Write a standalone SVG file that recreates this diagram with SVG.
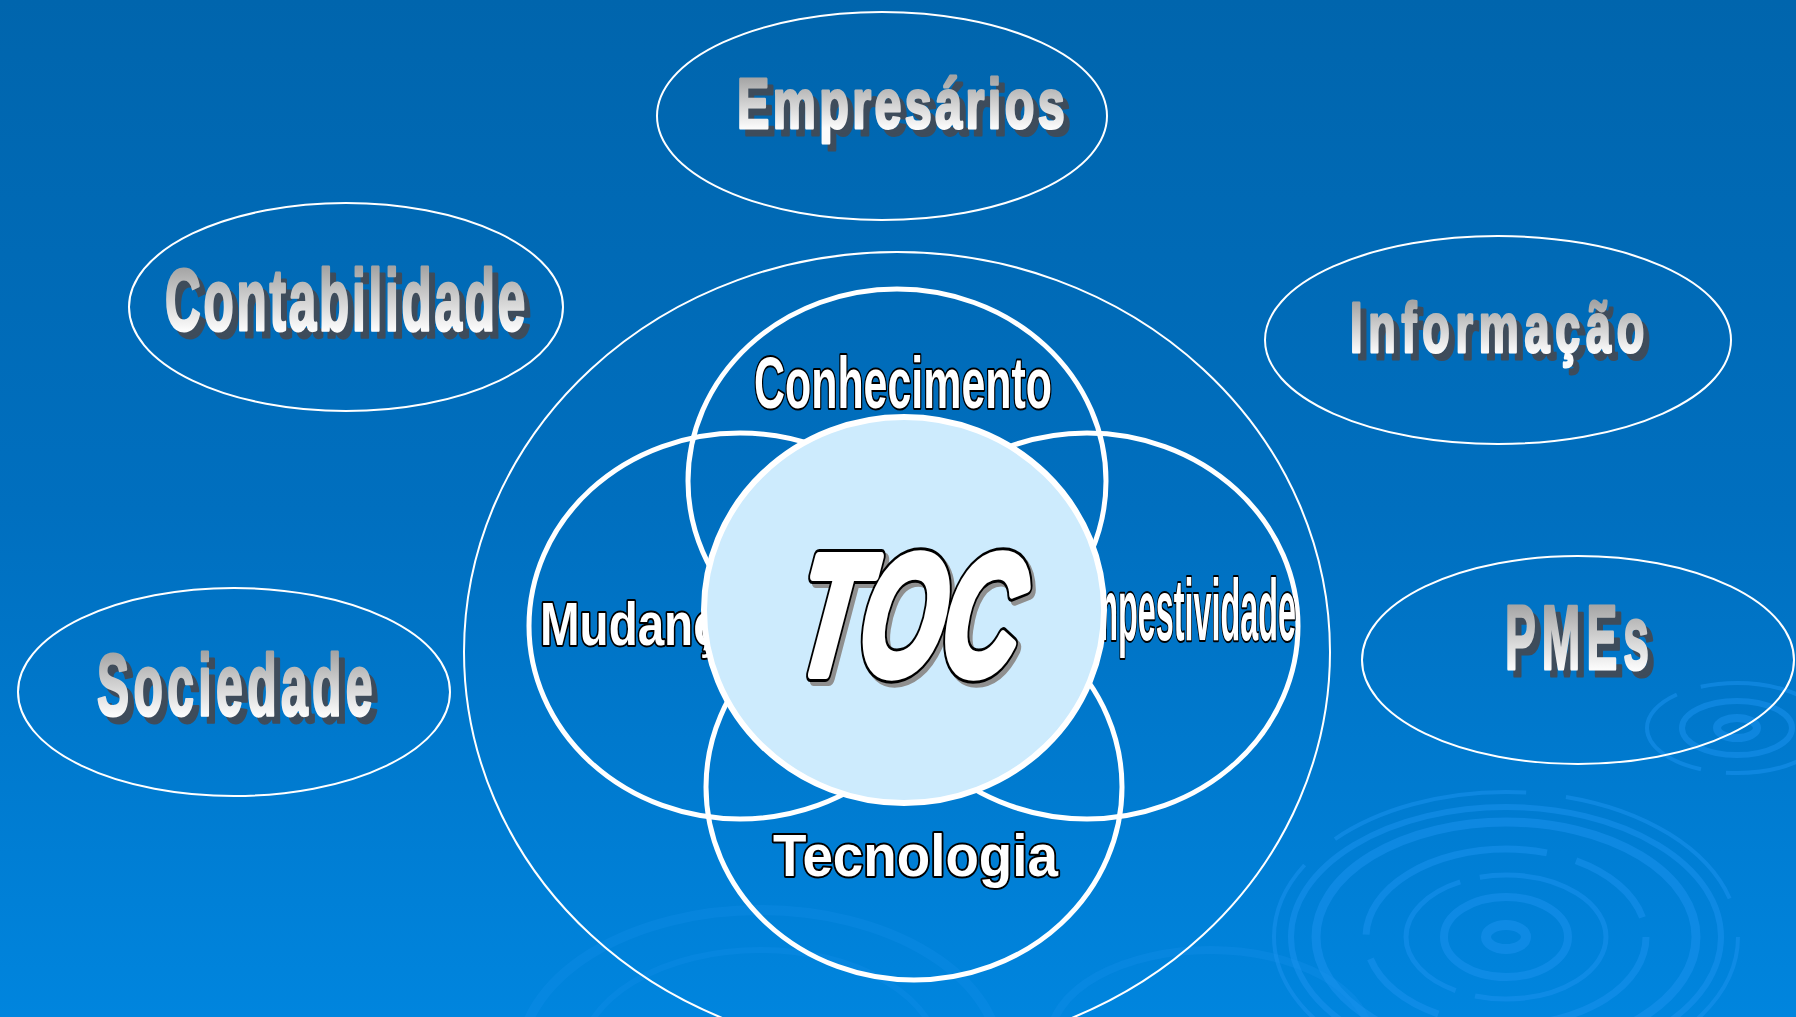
<svg xmlns="http://www.w3.org/2000/svg" width="1796" height="1017" viewBox="0 0 1796 1017">
<defs>
  <linearGradient id="bg" x1="0" y1="0" x2="0" y2="1">
    <stop offset="0" stop-color="#0065ad"/>
    <stop offset="0.5" stop-color="#006fbf"/>
    <stop offset="1" stop-color="#0085de"/>
  </linearGradient>
  <linearGradient id="silver" x1="0" y1="0" x2="0" y2="1">
    <stop offset="0.17" stop-color="#a4a4a4"/>
    <stop offset="0.81" stop-color="#fbfbfb"/>
  </linearGradient>
</defs>
<style>
  .oval{fill:none;stroke:#fff;stroke-width:2}
  .ring{fill:none;stroke:#fff;stroke-width:5}
  .big{font-family:"Liberation Sans",Arial,sans-serif;font-weight:bold;stroke-width:3;stroke-linejoin:round}
  .sh{fill:#3e4c5b;stroke:#3e4c5b}
  .sv{fill:url(#silver);stroke:url(#silver)}
  .lbl{font-family:"Liberation Sans",Arial,sans-serif;font-weight:bold;fill:#fff;stroke:#000;stroke-width:4;paint-order:stroke;stroke-linejoin:round}
  .toc{font-family:"Liberation Sans",Arial,sans-serif;font-weight:bold;font-style:italic;font-size:170px;stroke-linejoin:round}
  .rip{fill:none;stroke:#1a92ee}
</style>

<g id="background">
  <rect x="0" y="0" width="1796" height="1017" fill="url(#bg)"/>
  <g class="rip" opacity="0.55">
    <ellipse cx="1506" cy="937" rx="20" ry="12" stroke-width="10"/>
    <ellipse cx="1506" cy="937" rx="62" ry="40" stroke-width="8"/>
    <ellipse cx="1506" cy="937" rx="100" ry="62" stroke-width="5" stroke-dasharray="160 20"/>
    <ellipse cx="1506" cy="937" rx="140" ry="88" stroke-width="7" stroke-dasharray="220 30 90 25"/>
    <ellipse cx="1506" cy="937" rx="190" ry="115" stroke-width="9"/>
    <ellipse cx="1506" cy="937" rx="215" ry="130" stroke-width="6"/>
    <ellipse cx="1506" cy="937" rx="232" ry="145" stroke-width="4" stroke-dasharray="200 40"/>
    <ellipse cx="1737" cy="728" rx="20" ry="10" stroke-width="8"/>
    <ellipse cx="1737" cy="728" rx="55" ry="27" stroke-width="6"/>
    <ellipse cx="1737" cy="728" rx="90" ry="45" stroke-width="4" stroke-dasharray="120 25"/>
  </g>
  <g class="rip" opacity="0.25">
    <ellipse cx="760" cy="1060" rx="240" ry="150" stroke-width="10"/>
    <ellipse cx="760" cy="1060" rx="180" ry="110" stroke-width="6"/>
    <ellipse cx="1210" cy="1040" rx="160" ry="90" stroke-width="8"/>
  </g>
</g>

<g id="outer-ellipse">
  <ellipse class="oval" cx="897" cy="652" rx="433" ry="400"/>
</g>

<g id="empresarios">
  <ellipse class="oval" cx="882" cy="116" rx="225" ry="104"/>
  <text class="big sh" x="743" y="135" font-size="71" letter-spacing="5" textLength="331" lengthAdjust="spacingAndGlyphs">Empresários</text>
  <text class="big sv" x="737" y="128" font-size="71" letter-spacing="5" textLength="331" lengthAdjust="spacingAndGlyphs">Empresários</text>
</g>

<g id="contabilidade">
  <ellipse class="oval" cx="346" cy="307" rx="217" ry="104"/>
  <text class="big sh" x="171" y="337" font-size="87" letter-spacing="5" textLength="363" lengthAdjust="spacingAndGlyphs">Contabilidade</text>
  <text class="big sv" x="165" y="330" font-size="87" letter-spacing="5" textLength="363" lengthAdjust="spacingAndGlyphs">Contabilidade</text>
</g>

<g id="informacao">
  <ellipse class="oval" cx="1498" cy="340" rx="233" ry="104"/>
  <text class="big sh" x="1356" y="359" font-size="70" letter-spacing="9" textLength="300" lengthAdjust="spacingAndGlyphs">Informação</text>
  <text class="big sv" x="1350" y="352" font-size="70" letter-spacing="9" textLength="300" lengthAdjust="spacingAndGlyphs">Informação</text>
</g>

<g id="pmes">
  <ellipse class="oval" cx="1578" cy="660" rx="216" ry="104"/>
  <text class="big sh" x="1511" y="676" font-size="91" letter-spacing="12" textLength="150" lengthAdjust="spacingAndGlyphs">PMEs</text>
  <text class="big sv" x="1505" y="669" font-size="91" letter-spacing="12" textLength="150" lengthAdjust="spacingAndGlyphs">PMEs</text>
</g>

<g id="sociedade">
  <ellipse class="oval" cx="234" cy="692" rx="216" ry="104"/>
  <text class="big sh" x="103" y="722" font-size="88" letter-spacing="8" textLength="280" lengthAdjust="spacingAndGlyphs">Sociedade</text>
  <text class="big sv" x="97" y="715" font-size="88" letter-spacing="8" textLength="280" lengthAdjust="spacingAndGlyphs">Sociedade</text>
</g>

<g id="conhecimento">
  <ellipse class="ring" cx="897" cy="481" rx="209" ry="192"/>
  <text class="lbl" x="754" y="408" font-size="72" textLength="298" lengthAdjust="spacingAndGlyphs">Conhecimento</text>
</g>

<g id="mudanca">
  <ellipse class="ring" cx="740" cy="626" rx="211" ry="193"/>
  <text class="lbl" x="540" y="645" font-size="61" textLength="206" lengthAdjust="spacingAndGlyphs">Mudança</text>
</g>

<g id="competitividade">
  <ellipse class="ring" cx="1087" cy="626" rx="211" ry="193"/>
  <text class="lbl" x="1046" y="640" font-size="87" textLength="250" lengthAdjust="spacingAndGlyphs">Compestividade</text>
</g>

<g id="tecnologia">
  <ellipse class="ring" cx="914" cy="787" rx="208" ry="193"/>
  <text class="lbl" x="773" y="876" font-size="59" textLength="285" lengthAdjust="spacingAndGlyphs">Tecnologia</text>
</g>

<g id="toc">
  <ellipse cx="904" cy="610" rx="200" ry="193" fill="#cdebfd" stroke="#fff" stroke-width="6"/>
  <g transform="translate(792,674) skewX(-8)">
    <text class="toc" x="4" y="4" fill="#8f8f8f" stroke="#8f8f8f" stroke-width="16" textLength="222" lengthAdjust="spacingAndGlyphs">TOC</text>
    <text class="toc" x="0" y="0" fill="#000" stroke="#000" stroke-width="16" textLength="222" lengthAdjust="spacingAndGlyphs">TOC</text>
    <text class="toc" x="0" y="0" fill="#fff" stroke="#fff" stroke-width="10" textLength="222" lengthAdjust="spacingAndGlyphs">TOC</text>
  </g>
</g>
</svg>
